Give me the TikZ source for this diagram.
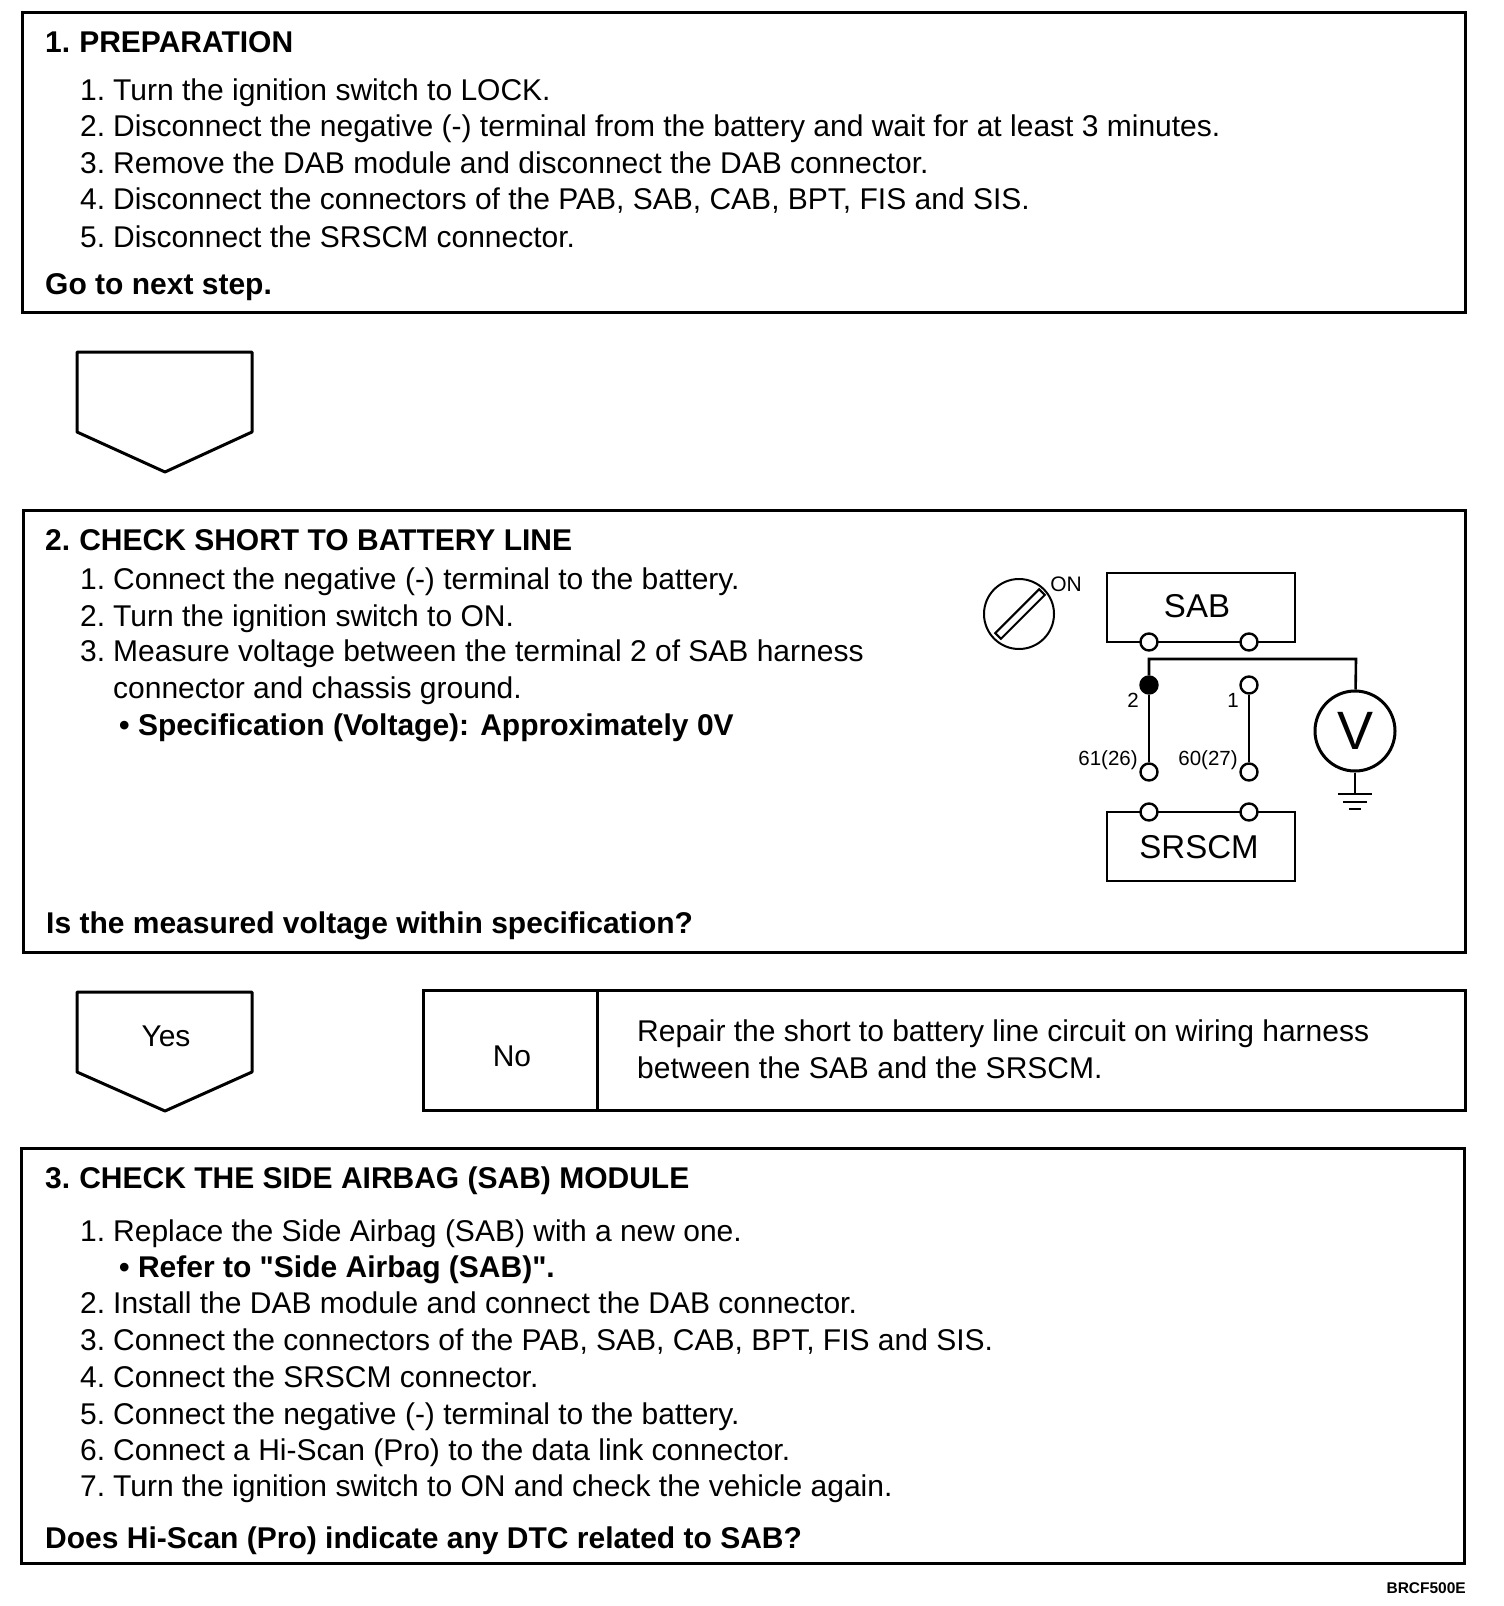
\documentclass[tikz,border=0pt]{standalone}
\usepackage{fontspec}
\setmainfont{Liberation Sans}
\newfontfamily\qfont{Liberation Sans}
\tikzset{
  txt/.style={anchor=base west, inner sep=0pt, font=\fontsize{30}{36}\selectfont},
  head/.style={txt, font=\fontsize{30}{36}\selectfont\bfseries},
  lbl/.style={anchor=base, inner sep=0pt, font=\fontsize{30}{36}\selectfont},
  tiny/.style={anchor=base, inner sep=0pt, font=\fontsize{20.5}{24}\selectfont},
  frame/.style={draw, line width=3pt},
  wire/.style={line width=2.6pt},
  pin/.style={circle, draw, line width=2.4pt, fill=white, minimum size=17pt, inner sep=0pt},
  pinon/.style={pin, fill=black}
}
\newcommand{\numd}[2]{\makebox[33pt][l]{#1}#2}
\newcommand{\titl}[2]{#1\kern-2pt{} #2}
\begin{document}
\begin{tikzpicture}[x=1pt, y=-1pt]
  \useasboundingbox (0,0) rectangle (1504,1606);
  % boxes
  \draw[frame] (22,12) rectangle (1465,312);
  \draw[frame] (23,510) rectangle (1465,952);
  \draw[frame] (21,1148) rectangle (1464,1563);
  \draw[frame] (423,990) rectangle (1465,1110);
  \draw[frame] (597,990) -- (597,1110);
  % arrows
  \draw[frame, line join=round] (77,352) -- (252,352) -- (252,432) -- (165,472) -- (77,432) -- cycle;
  \draw[frame, line join=round] (77,992) -- (252,992) -- (252,1072) -- (165,1111) -- (77,1072) -- cycle;
  % step 1
  \node[head] (prep) at (45,52) {\titl{1.}{PREPARATION}};
  \foreach \y/\n/\s in {100/1/Turn the ignition switch to LOCK.,
      136/2/Disconnect the negative (-) terminal from the battery and wait for at least 3 minutes.,
      173/3/Remove the DAB module and disconnect the DAB connector.,
      209/4/{Disconnect the connectors of the PAB, SAB, CAB, BPT, FIS and SIS.},
      247/5/Disconnect the SRSCM connector.}
    \node[txt] (prep\n) at (80,\y) {\numd{\n.}{\s}};
  \node[head] (gonext) at (45,294) {Go to next step.};
  % step 2
  \node[head] (short) at (45,550) {\titl{2.}{CHECK SHORT TO BATTERY LINE}};
  \foreach \y/\n/\s in {589/1/Connect the negative (-) terminal to the battery.,
      626/2/Turn the ignition switch to ON.,
      661/3/Measure voltage between the terminal 2 of SAB harness}
    \node[txt] (short\n) at (80,\y) {\numd{\n.}{\s}};
  \node[txt] (short3b) at (113,698) {connector and chassis ground.};
  \node[head] (spec) at (119,735) {• Specification (Voltage): Approximately 0V};
  \node[head] (within) at (46,933) {Is the measured voltage within specification?};
  % yes / no
  \node[lbl] (yes) at (166,1046) {Yes};
  \node[lbl] (no) at (512,1066) {No};
  \node[txt] (rep1) at (637,1041) {Repair the short to battery line circuit on wiring harness};
  \node[txt] (rep2) at (637,1078) {between the SAB and the SRSCM.};
  % step 3
  \node[head] (side) at (45,1188) {\titl{3.}{CHECK THE SIDE AIRBAG (SAB) MODULE}};
  \foreach \y/\n/\s in {1241/1/Replace the Side Airbag (SAB) with a new one.,
      1313/2/Install the DAB module and connect the DAB connector.,
      1350/3/{Connect the connectors of the PAB, SAB, CAB, BPT, FIS and SIS.},
      1387/4/Connect the SRSCM connector.,
      1424/5/Connect the negative (-) terminal to the battery.,
      1460/6/Connect a Hi-Scan (Pro) to the data link connector.,
      1496/7/Turn the ignition switch to ON and check the vehicle again.}
    \node[txt] (side\n) at (80,\y) {\numd{\n.}{\s}};
  \node[head] (refer) at (119,1277) {• Refer to {\qfont\char34}Side Airbag (SAB){\qfont\char34}.};
  \node[head] (dtc) at (45,1548) {Does Hi-Scan (Pro) indicate any DTC related to SAB?};
  \node[anchor=base east, inner sep=0pt, font=\fontsize{15.5}{18}\selectfont\bfseries] (code) at (1466,1593) {BRCF500E};
  % ignition switch
  \node[circle, draw, line width=2pt, minimum size=70pt, inner sep=0pt] (ign) at (1019,614) {};
  \node[draw, line width=2pt, rotate=45, minimum width=62pt, minimum height=8pt, inner sep=0pt] (key) at (1020,614) {};
  \node[tiny, font=\fontsize{21}{24}\selectfont] (on) at (1066,591) {ON};
  % connectors
  \node[draw, wire, minimum width=188pt, minimum height=69pt, inner sep=0pt] (sab) at (1201,607.5) {};
  \node[lbl, font=\fontsize{33}{36}\selectfont] (sabt) at (1197,617) {SAB};
  \node[draw, wire, minimum width=188pt, minimum height=69pt, inner sep=0pt] (srscm) at (1201,846.5) {};
  \node[lbl, font=\fontsize{33}{36}\selectfont] (srscmt) at (1199,858) {SRSCM};
  \node[pin] (a1) at (1149,642) {};
  \node[pin] (a2) at (1249,642) {};
  \node[pinon] (t2) at (1149,685) {};
  \node[pin] (t1) at (1249,685) {};
  \node[pin] (b1) at (1149,772) {};
  \node[pin] (b2) at (1249,772) {};
  \node[pin] (c1) at (1149,812) {};
  \node[pin] (c2) at (1249,812) {};
  \node[circle, draw, wire, line width=3pt, minimum size=80pt, inner sep=0pt, font=\fontsize{54}{56}\selectfont] (volt) at (1355,731) {V};
  \coordinate (gnd) at (1355,794);
  \draw[wire] (t2) -- (b1);
  \draw[wire] (t1) -- (b2);
  \draw[wire] (t2) |- (1356,659) -- (volt);
  \draw[wire] (volt) -- (gnd);
  \draw[wire] ([xshift=-17pt]gnd) -- ([xshift=17pt]gnd);
  \draw[wire] ([xshift=-12pt,yshift=-8pt]gnd) -- ([xshift=12pt,yshift=-8pt]gnd);
  \draw[wire] ([xshift=-6pt,yshift=-15pt]gnd) -- ([xshift=6pt,yshift=-15pt]gnd);
  \node[tiny] (n2) at (1133,707) {2};
  \node[tiny] (n1) at (1233,707) {1};
  \node[tiny] (n61) at (1108,765) {61(26)};
  \node[tiny] (n60) at (1208,765) {60(27)};
\end{tikzpicture}
\end{document}
